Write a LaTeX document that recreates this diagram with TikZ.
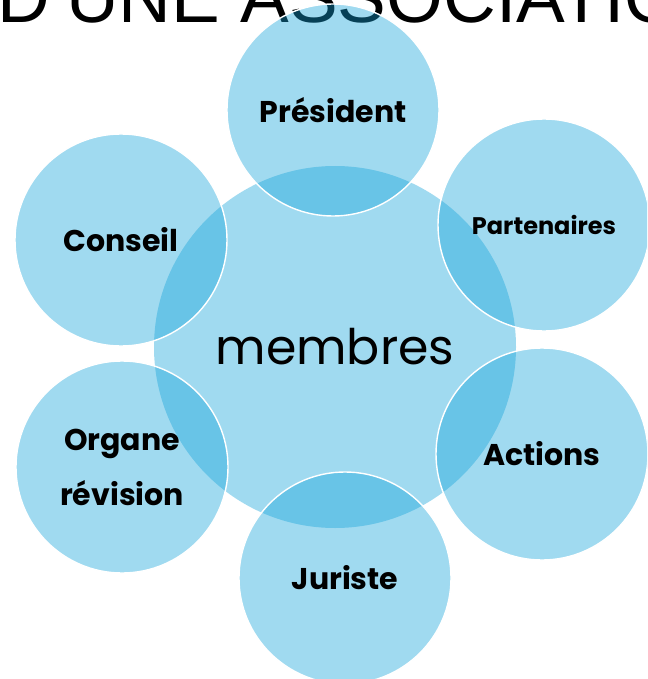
\documentclass[tikz,border=0pt]{standalone}
\usepackage{fontspec}
\setmainfont{Poppins}
\newfontfamily\titrefont{Liberation Sans}
\usepackage{tikz}
\usetikzlibrary{positioning}
\definecolor{assocbleu}{RGB}{18,162,217}

\begin{document}
\begin{tikzpicture}[
    x=1pt, y=-1pt,
    bulle/.style={circle, fill=assocbleu, fill opacity=0.4, text opacity=1,
        draw=white, line width=1.4pt, minimum size=212pt, inner sep=0pt,
        align=center, font=\bfseries\fontsize{30}{55}\selectfont},
    petit/.style={font=\bfseries\fontsize{24}{30}\selectfont},
    centre/.style={circle, fill=assocbleu, fill opacity=0.4, text opacity=1,
        minimum size=362pt, inner sep=0pt, font=\fontsize{49}{52}\selectfont}]
\useasboundingbox (0,0) rectangle (647,679);
\clip (0,0) rectangle (647,679);

\node[anchor=base west, inner sep=0, font=\titrefont\fontsize{73}{75}\selectfont] (titre) at (-3,23) {D’UNE ASSOCIATIO};

\node[centre] (membres) at (335,347) {membres};

\node[bulle] (president)   at (333,110) {Président};
\node[bulle, petit] (partenaires) at (544,225) {Partenaires};
\node[bulle] (actions)     at (542,454) {Actions};
\node[bulle] (juriste)     at (345,578) {Juriste};
\node[bulle] (organe)      at (122,467) {Organe\\révision};
\node[bulle] (conseil)     at (121,240) {Conseil};

\end{tikzpicture}
\end{document}
